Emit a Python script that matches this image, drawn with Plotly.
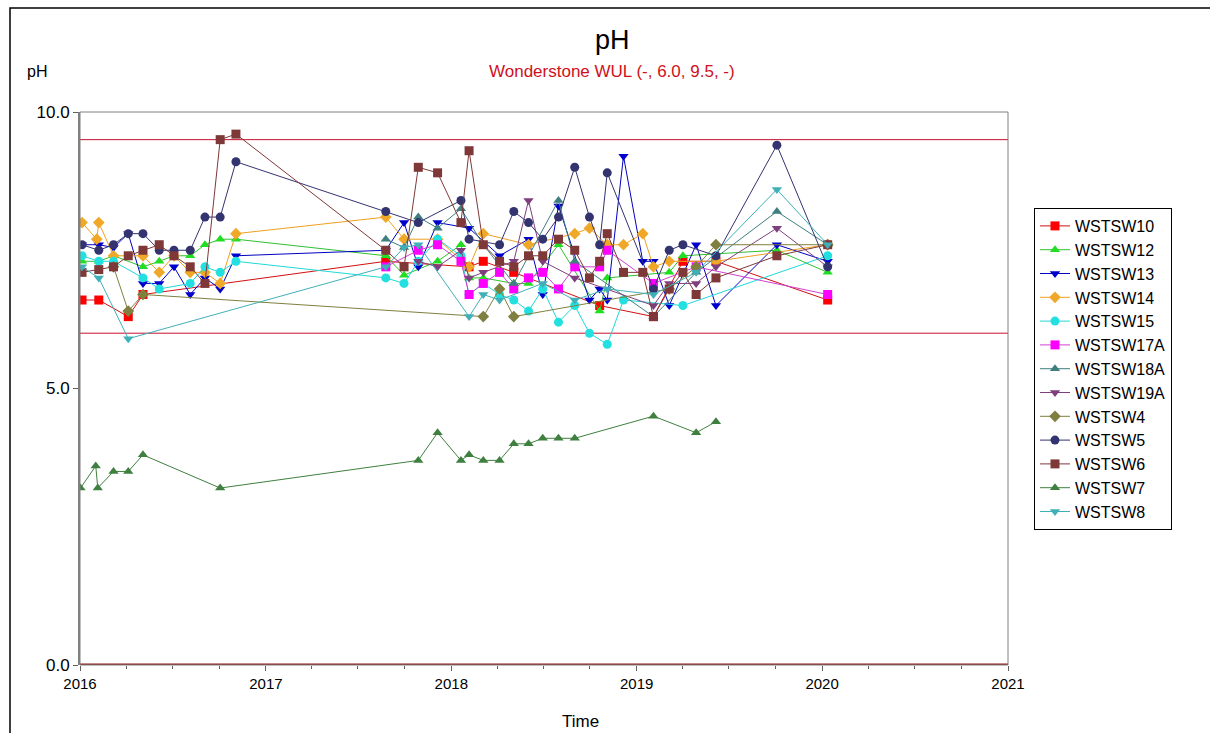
import plotly.graph_objects as go

# ---------------- data ----------------
limits = [6.0, 9.5]

names = ["WSTSW10", "WSTSW12", "WSTSW13", "WSTSW14", "WSTSW15", "WSTSW17A",
         "WSTSW18A", "WSTSW19A", "WSTSW4", "WSTSW5", "WSTSW6", "WSTSW7", "WSTSW8"]

d_10 = ["2016-01-05", "2016-02-07", "2016-04-05", "2016-05-04", "2017-08-25", "2018-02-05",
        "2018-03-05", "2018-05-04", "2018-10-20", "2019-02-03", "2019-04-02", "2019-06-06", "2020-01-12"]
v_10 = [6.6, 6.6, 6.3, 6.7, 7.3, 7.2, 7.3, 7.1, 6.5, 6.3, 7.3, 7.3, 6.6]

d_12 = ["2016-01-05", "2016-02-07", "2016-03-07", "2016-05-04", "2016-06-05", "2016-07-04",
        "2016-08-05", "2016-09-03", "2016-10-03", "2016-11-03", "2017-08-25", "2017-09-30",
        "2017-12-05", "2018-01-20", "2018-02-05", "2018-03-05", "2018-05-04", "2018-06-02",
        "2018-07-31", "2018-10-20", "2018-11-04", "2019-03-06", "2019-04-02", "2019-10-04", "2020-01-12"]
v_12 = [7.3, 7.3, 7.4, 7.2, 7.3, 7.4, 7.4, 7.6, 7.7, 7.7, 7.4, 7.05,
        7.3, 7.6, 7.0, 7.0, 6.9, 6.9, 7.6, 6.4, 7.0, 7.1, 7.4, 7.5, 7.1]

d_13 = ["2016-01-05", "2016-02-07", "2016-03-07", "2016-04-05", "2016-05-04", "2016-06-05",
        "2016-07-04", "2016-08-05", "2016-09-03", "2016-10-03", "2016-11-03", "2017-08-25",
        "2017-09-30", "2017-10-28", "2017-12-05", "2018-02-05", "2018-04-06", "2018-06-02",
        "2018-06-30", "2018-07-31", "2018-09-30", "2018-10-20", "2018-11-04", "2018-12-06",
        "2019-01-13", "2019-02-03", "2019-03-06", "2019-04-28", "2019-06-06", "2019-10-04", "2020-01-12"]
v_13 = [7.6, 7.6, 7.55, 7.8, 6.9, 6.9, 7.2, 6.7, 7.0, 6.8, 7.4, 7.5,
        8.0, 7.2, 8.0, 7.9, 7.4, 7.7, 6.7, 8.3, 6.6, 6.8, 6.6, 9.2,
        7.3, 7.3, 6.5, 7.6, 6.5, 7.6, 7.3]

d_14 = ["2016-01-05", "2016-02-03", "2016-02-07", "2016-03-07", "2016-05-04", "2016-06-05",
        "2016-07-04", "2016-08-05", "2016-09-03", "2016-10-03", "2016-11-03", "2017-08-25",
        "2017-09-30", "2017-12-05", "2018-02-05", "2018-03-05", "2018-06-02", "2018-09-01",
        "2018-09-30", "2018-11-04", "2018-12-06", "2019-01-13", "2019-02-03", "2019-03-06",
        "2019-06-06", "2020-01-12"]
v_14 = [8.0, 7.7, 8.0, 7.4, 7.4, 7.1, 7.4, 7.1, 7.1, 6.9, 7.8, 8.1,
        7.7, 7.7, 7.2, 7.8, 7.6, 7.8, 7.9, 7.6, 7.6, 7.8, 7.2, 7.3, 7.3, 7.6]

d_15 = ["2016-01-05", "2016-02-07", "2016-03-07", "2016-05-04", "2016-06-05", "2016-08-05",
        "2016-09-03", "2016-10-03", "2016-11-03", "2017-08-25", "2017-09-30", "2017-10-28",
        "2017-12-05", "2018-01-20", "2018-02-05", "2018-03-05", "2018-04-06", "2018-05-04",
        "2018-06-02", "2018-06-30", "2018-07-31", "2018-09-01", "2018-09-30", "2018-11-04",
        "2018-12-06", "2019-04-02", "2020-01-12"]
v_15 = [7.4, 7.3, 7.3, 7.0, 6.8, 6.9, 7.2, 7.1, 7.3, 7.0, 6.9, 7.3,
        7.7, 7.4, 6.7, 6.9, 6.7, 6.6, 6.4, 6.8, 6.2, 6.5, 6.0, 5.8,
        6.6, 6.5, 7.4]

d_17A = ["2017-08-25", "2017-10-28", "2017-12-05", "2018-01-20", "2018-02-05", "2018-03-05",
         "2018-04-06", "2018-05-04", "2018-06-02", "2018-06-30", "2018-07-31", "2018-09-01",
         "2018-10-20", "2018-11-04", "2019-02-03", "2019-04-28", "2020-01-12"]
v_17A = [7.2, 7.5, 7.6, 7.3, 6.7, 6.9, 7.1, 6.8, 7.0, 7.1, 6.8, 7.2, 7.2, 7.5, 6.9, 7.2, 6.7]

d_18A = ["2017-08-25", "2017-09-30", "2017-10-28", "2017-12-05", "2018-01-20", "2018-03-05",
         "2018-05-04", "2018-07-31", "2018-09-01", "2019-02-03", "2019-04-28", "2019-10-04", "2020-01-12"]
v_18A = [7.7, 7.55, 8.1, 7.9, 8.25, 7.6, 6.9, 8.4, 7.3, 6.3, 7.1, 8.2, 7.6]

d_19A = ["2017-10-28", "2017-12-05", "2018-01-20", "2018-02-05", "2018-03-05", "2018-05-04",
         "2018-06-02", "2018-06-30", "2018-09-01", "2019-02-03", "2019-03-06", "2019-04-28",
         "2019-06-06", "2019-10-04", "2020-01-12"]
v_19A = [7.3, 7.2, 7.5, 7.0, 7.1, 7.3, 8.4, 7.3, 7.0, 6.5, 6.9, 6.9, 7.2, 7.9, 7.2]

d_4 = ["2016-03-07", "2016-04-05", "2016-05-04", "2018-03-05", "2018-04-06", "2018-05-04",
       "2019-03-06", "2019-04-28", "2019-06-06", "2020-01-12"]
v_4 = [7.2, 6.4, 6.7, 6.3, 6.8, 6.3, 6.8, 7.2, 7.6, 7.6]

d_5 = ["2016-01-05", "2016-02-07", "2016-03-07", "2016-04-05", "2016-05-04", "2016-06-05",
       "2016-07-04", "2016-08-05", "2016-09-03", "2016-10-03", "2016-11-03", "2017-08-25",
       "2017-10-28", "2018-01-20", "2018-02-05", "2018-04-06", "2018-05-04", "2018-06-02",
       "2018-06-30", "2018-07-31", "2018-09-01", "2018-09-30", "2018-10-20", "2018-11-04",
       "2019-02-03", "2019-03-06", "2019-04-02", "2019-06-06", "2019-10-04", "2020-01-12"]
v_5 = [7.6, 7.5, 7.6, 7.8, 7.8, 7.5, 7.5, 7.5, 8.1, 8.1, 9.1, 8.2,
       8.0, 8.4, 7.7, 7.6, 8.2, 8.0, 7.7, 8.1, 9.0, 8.1, 7.6, 8.9,
       6.8, 7.5, 7.6, 7.4, 9.4, 7.2]

d_6 = ["2016-01-05", "2016-02-07", "2016-03-07", "2016-04-05", "2016-05-04", "2016-06-05",
       "2016-07-04", "2016-08-05", "2016-09-03", "2016-10-03", "2016-11-03", "2017-08-25",
       "2017-09-30", "2017-10-28", "2017-12-05", "2018-01-20", "2018-02-05", "2018-03-05",
       "2018-04-06", "2018-05-04", "2018-06-02", "2018-06-30", "2018-07-31", "2018-09-01",
       "2018-09-30", "2018-10-20", "2018-11-04", "2018-12-06", "2019-01-13", "2019-02-03",
       "2019-03-06", "2019-04-02", "2019-04-28", "2019-06-06", "2019-10-04", "2020-01-12"]
v_6 = [7.1, 7.15, 7.2, 7.4, 7.5, 7.6, 7.4, 7.2, 6.9, 9.5, 9.6, 7.5,
       7.2, 9.0, 8.9, 8.0, 9.3, 7.6, 7.3, 7.2, 7.4, 7.4, 7.7, 7.5,
       7.0, 7.3, 7.8, 7.1, 7.1, 6.3, 6.8, 7.1, 6.7, 7.0, 7.4, 7.6]

d_7 = ["2016-01-02", "2016-02-01", "2016-02-05", "2016-03-07", "2016-04-05", "2016-05-04",
       "2016-10-03", "2017-10-28", "2017-12-05", "2018-01-20", "2018-02-05", "2018-03-05",
       "2018-04-06", "2018-05-04", "2018-06-02", "2018-06-30", "2018-07-31", "2018-09-01",
       "2019-02-03", "2019-04-28", "2019-06-06"]
v_7 = [3.2, 3.6, 3.2, 3.5, 3.5, 3.8, 3.2, 3.7, 4.2, 3.7, 3.8, 3.7,
       3.7, 4.0, 4.0, 4.1, 4.1, 4.1, 4.5, 4.2, 4.4]

d_8 = ["2016-01-05", "2016-02-07", "2016-04-05", "2017-08-25", "2017-09-30", "2017-10-28",
       "2018-02-05", "2018-03-05", "2018-04-06", "2018-06-30", "2018-09-01", "2018-11-04",
       "2019-02-03", "2019-04-28", "2019-10-04", "2020-01-12"]
v_8 = [7.2, 7.0, 5.9, 7.2, 7.55, 7.6, 6.3, 6.7, 6.6, 6.9, 6.6, 6.8, 6.7, 7.1, 8.6, 7.6]

series_dates = [d_10, d_12, d_13, d_14, d_15, d_17A, d_18A, d_19A, d_4, d_5, d_6, d_7, d_8]
series_values = [v_10, v_12, v_13, v_14, v_15, v_17A, v_18A, v_19A, v_4, v_5, v_6, v_7, v_8]

# ---------------- styles ----------------
line_colors = ["#D01010", "#30C030", "#0000C0", "#F0A020", "#20D8D8", "#D040D0",
               "#3F7F7F", "#7F3F7F", "#7F7F3F", "#333370", "#7F3838", "#3F7F3F", "#40B0B8"]
marker_colors = ["#FF0000", "#22DD22", "#0000CC", "#F0A828", "#22E0E0", "#FF00FF",
                 "#3F7F7F", "#7F3F7F", "#7F7F3F", "#333370", "#7F3838", "#3F7F3F", "#40B0B8"]
symbols = ["square", "triangle-up", "triangle-down", "diamond", "circle", "square",
           "triangle-up", "triangle-down", "diamond", "circle", "square", "triangle-up", "triangle-down"]

fig = go.Figure()
for n, d, v, lc, mc, s in zip(names, series_dates, series_values, line_colors, marker_colors, symbols):
    fig.add_trace(go.Scatter(
        x=d, y=v, name=n, mode="lines+markers",
        line=dict(color=lc, width=1),
        marker=dict(symbol=s, size=9, color=mc, line=dict(width=0)),
    ))

for lim in limits:
    fig.add_hline(y=lim, line=dict(color="#C8102E", width=1), layer="below")
fig.add_hline(y=0, line=dict(color="#8B1A1A", width=3))

W, H = 1210, 733
L, R, T, B = 80, 1008, 112, 665
pw, ph = R - L, B - T

def px(x):
    return (x - L) / pw

def py(y):
    return (B - y) / ph

# plot frame
fig.add_shape(type="rect", xref="paper", yref="paper", x0=0, x1=1, y0=0, y1=1,
              line=dict(color="#808080", width=1), layer="above")
# outer page frame
fig.add_shape(type="rect", xref="paper", yref="paper", x0=px(10), x1=px(1230), y0=py(760), y1=py(8),
              line=dict(color="black", width=1.5))

fig.add_annotation(text="pH", xref="paper", yref="paper", x=px(612), y=py(40), showarrow=False,
                   font=dict(size=27, color="black", family="Arial"), xanchor="center", yanchor="middle")
fig.add_annotation(text="Wonderstone WUL (-, 6.0, 9.5, -)", xref="paper", yref="paper", x=px(612), y=py(72),
                   showarrow=False, font=dict(size=17, color="#D01020", family="Arial"),
                   xanchor="center", yanchor="middle")
fig.add_annotation(text="pH", xref="paper", yref="paper", x=px(37), y=py(72), showarrow=False,
                   font=dict(size=16, color="black", family="Arial"), xanchor="center", yanchor="middle")
fig.add_annotation(text="Time", xref="paper", yref="paper", x=px(580), y=py(721), showarrow=False,
                   font=dict(size=17, color="black", family="Arial"), xanchor="center", yanchor="middle")

fig.update_layout(
    width=W, height=H,
    margin=dict(l=L, r=W - R, t=T, b=H - B, pad=0),
    paper_bgcolor="white", plot_bgcolor="white",
    font=dict(family="Arial", color="black"),
    showlegend=True,
    legend=dict(x=px(1034), xanchor="left", y=py(208), yanchor="top",
                bordercolor="black", borderwidth=1, bgcolor="white",
                font=dict(size=16, family="Arial"), tracegroupgap=0, itemwidth=30),
    xaxis=dict(range=["2016-01-01", "2021-01-01"], showgrid=False, zeroline=False,
               tickvals=["2016-01-01", "2017-01-01", "2018-01-01", "2019-01-01", "2020-01-01", "2021-01-01"],
               ticktext=["2016", "2017", "2018", "2019", "2020", "2021"],
               ticks="outside", ticklen=5, tickcolor="#606060",
               minor=dict(dtick="M3", tick0="2016-01-01", ticks="outside", ticklen=3, tickcolor="#606060"),
               tickfont=dict(size=15), showline=False),
    yaxis=dict(range=[0, 10], showgrid=False, zeroline=False,
               tickvals=[0, 5, 10], ticktext=["0.0", "5.0", "10.0"],
               ticks="outside", ticklen=5, tickcolor="#606060",
               tickfont=dict(size=17), showline=True, linecolor="#808080", linewidth=2),
)

fig.write_html("out.html")
